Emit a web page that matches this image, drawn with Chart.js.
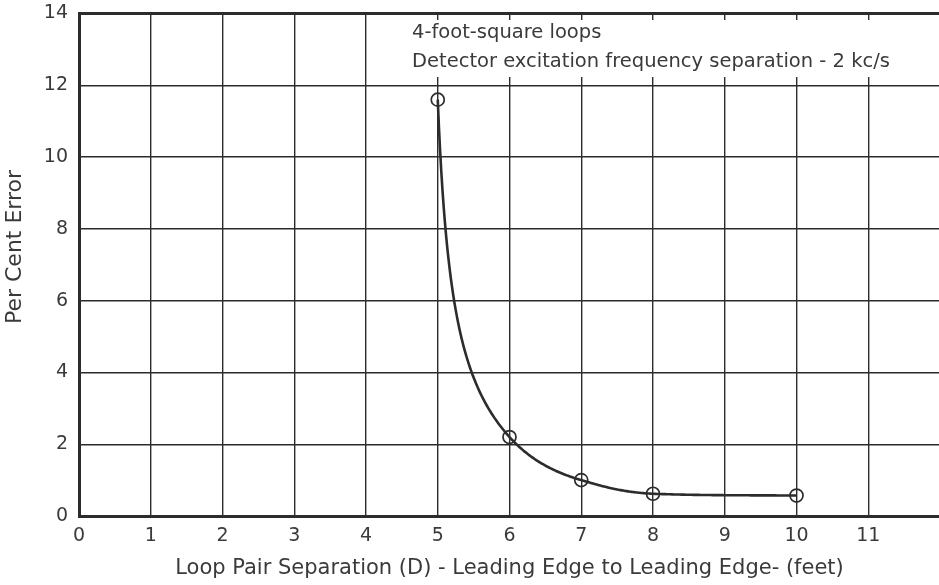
<!DOCTYPE html>
<html>
<head>
<meta charset="utf-8">
<script src="https://cdn.jsdelivr.net/npm/chart.js@4.4.1/dist/chart.umd.min.js"></script>
<style>
    html, body { margin: 0; padding: 0; background: #fff; overflow: hidden; }
    #wrap { width: 949px; height: 585px; position: relative; }
</style>
</head>
<body>
<div id="wrap"><canvas id="errChart"></canvas></div>
<script>
// Loop pair separation (feet) vs per cent error
const separationFt = [5, 6, 7, 8, 10];
const perCentError = [11.6, 2.2, 1.0, 0.62, 0.57];

const X_TICKS = [0, 1, 2, 3, 4, 5, 6, 7, 8, 9, 10, 11];
const Y_TICKS = [0, 2, 4, 6, 8, 10, 12, 14];

const NOTE_LINES = [
    '4-foot-square loops',
    'Detector excitation frequency separation - 2 kc/s'
];
const Y_TITLE = 'Per Cent Error';
const X_TITLE = 'Loop Pair Separation (D) - Leading Edge to Leading Edge- (feet)';

const INK  = '#2c2c2c';
const TEXT = '#3a3a3a';
const FONT = "'DejaVu Sans', sans-serif";

// ── Monotone cubic through the points, done on 1/y so the
//    fall-off keeps its hyperbolic shape ────────────────────────
function smoothPath(xs, ys, steps) {
    const vs = ys.map(y => 1 / y);
    const n = xs.length;
    const d = [], m = new Array(n);
    for (let k = 0; k < n - 1; k++) d.push((vs[k + 1] - vs[k]) / (xs[k + 1] - xs[k]));
    m[0] = d[0];
    m[n - 1] = d[n - 2];
    for (let k = 1; k < n - 1; k++) m[k] = d[k - 1] * d[k] > 0 ? (d[k - 1] + d[k]) / 2 : 0;
    for (let k = 0; k < n - 1; k++) {
        const a = m[k] / d[k], b = m[k + 1] / d[k];
        const s = a * a + b * b;
        if (s > 9) {
            const t = 3 / Math.sqrt(s);
            m[k] = t * a * d[k];
            m[k + 1] = t * b * d[k];
        }
    }
    const out = [];
    for (let k = 0; k < n - 1; k++) {
        const h = xs[k + 1] - xs[k];
        for (let i = 0; i <= steps; i++) {
            if (k > 0 && i === 0) continue;
            const t = i / steps, t2 = t * t, t3 = t2 * t;
            const v = (2 * t3 - 3 * t2 + 1) * vs[k] + (t3 - 2 * t2 + t) * h * m[k]
                    + (-2 * t3 + 3 * t2) * vs[k + 1] + (t3 - t2) * h * m[k + 1];
            out.push({ x: xs[k] + t * h, y: 1 / v });
        }
    }
    return out;
}

const curvePlugin = {
    id: 'errorCurve',
    beforeDatasetsDraw(chart) {
        const { ctx, chartArea, scales } = chart;

        // note box sits over the grid
        ctx.save();
        ctx.fillStyle = '#fff';
        ctx.fillRect(376, chartArea.top + 6.5, chartArea.right - 376, 57);
        ctx.fillStyle = TEXT;
        ctx.font = `19.5px ${FONT}`;
        ctx.textBaseline = 'alphabetic';
        ctx.fillText(NOTE_LINES[0], 412, 38);
        ctx.fillText(NOTE_LINES[1], 412, 67);
        ctx.restore();

        // fitted curve
        const pts = smoothPath(separationFt, perCentError, 60);
        ctx.save();
        ctx.strokeStyle = INK;
        ctx.lineWidth = 2.6;
        ctx.lineJoin = 'round';
        ctx.beginPath();
        pts.forEach((p, i) => {
            const px = scales.x.getPixelForValue(p.x);
            const py = scales.y.getPixelForValue(p.y);
            if (i === 0) ctx.moveTo(px, py); else ctx.lineTo(px, py);
        });
        ctx.stroke();
        ctx.restore();
    },
    afterDraw(chart) {
        const { ctx } = chart;
        ctx.save();
        ctx.translate(15, 247);
        ctx.rotate(-Math.PI / 2);
        ctx.fillStyle = TEXT;
        ctx.font = `22px ${FONT}`;
        ctx.textAlign = 'center';
        ctx.textBaseline = 'middle';
        ctx.fillText(Y_TITLE, 0, 0);
        ctx.restore();
    }
};

new Chart(document.getElementById('errChart'), {
    type: 'line',
    data: {
        datasets: [{
            data: separationFt.map((x, i) => ({ x, y: perCentError[i] })),
            showLine: false,
            pointRadius: 6.5,
            pointBorderWidth: 1.7,
            pointBorderColor: INK,
            pointBackgroundColor: 'rgba(0,0,0,0)'
        }]
    },
    options: {
        responsive: true,
        maintainAspectRatio: false,
        animation: false,
        layout: { padding: { top: 13.5, right: 0, left: 0, bottom: 0 } },
        plugins: {
            legend: { display: false },
            tooltip: { enabled: false }
        },
        scales: {
            x: {
                type: 'linear',
                min: 0,
                max: 12,
                afterBuildTicks: s => { s.ticks = X_TICKS.concat([12]).map(v => ({ value: v })); },
                afterFit: s => { s.height = 69; },
                grid: {
                    color: INK,
                    lineWidth: c => (c.tick && c.tick.value === 12 ? 3 : 1.4),
                    drawTicks: false
                },
                border: { color: INK, width: 3 },
                ticks: {
                    padding: 9,
                    color: TEXT,
                    font: { family: FONT, size: 19 },
                    maxRotation: 0,
                    callback: v => (v === 12 ? '' : v)
                },
                title: {
                    display: true,
                    text: X_TITLE,
                    color: TEXT,
                    font: { family: FONT, size: 21 },
                    padding: { top: 5 }
                }
            },
            y: {
                min: 0,
                max: 14,
                afterBuildTicks: s => { s.ticks = Y_TICKS.map(v => ({ value: v })); },
                afterFit: s => {
                    s.width = 79;
                    // let the top label overhang the frame instead of pushing it down
                    s.paddingTop = 0;
                    s.paddingBottom = 0;
                },
                grid: {
                    color: INK,
                    lineWidth: c => (c.tick && c.tick.value === 14 ? 3 : 1.4),
                    drawTicks: false
                },
                border: { color: INK, width: 3 },
                ticks: {
                    padding: 11,
                    color: TEXT,
                    font: { family: FONT, size: 19 }
                }
            }
        }
    },
    plugins: [curvePlugin]
});
</script>
</body>
</html>
